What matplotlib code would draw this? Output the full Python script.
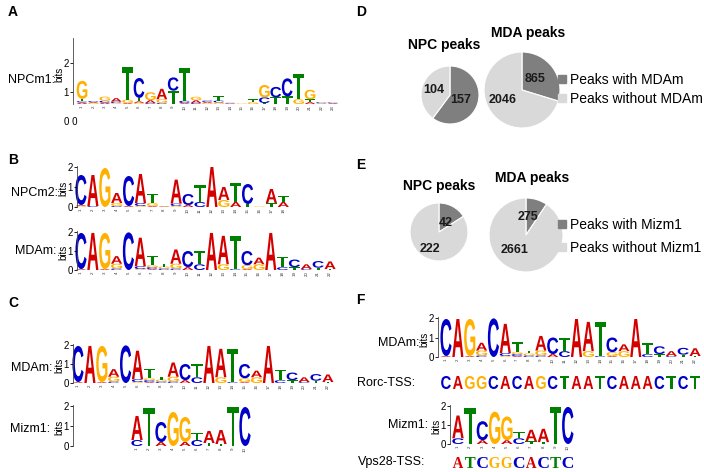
import matplotlib
matplotlib.use("Agg")
import matplotlib.pyplot as plt
from matplotlib.textpath import TextPath
from matplotlib.patches import PathPatch, Patch
from matplotlib.font_manager import FontProperties
from matplotlib.transforms import Affine2D

plt.rcParams['font.family'] = ['Liberation Sans', 'DejaVu Sans']

W, H = 704, 472

# motif columns, letters stacked bottom -> top as (letter, bits)
npcm1 = [
    [("A", 0.08), ("C", 0.07), ("T", 0.12), ("G", 0.95)],
    [("G", 0.05), ("A", 0.05), ("C", 0.05)],
    [("A", 0.07), ("C", 0.1), ("G", 0.22)],
    [("G", 0.05), ("C", 0.08), ("A", 0.18)],
    [("A", 0.05), ("G", 0.18), ("T", 1.7)],
    [("G", 0.06), ("A", 0.08), ("T", 0.18), ("C", 1.05)],
    [("C", 0.05), ("A", 0.15), ("G", 0.42)],
    [("C", 0.05), ("G", 0.2), ("A", 0.55)],
    [("T", 0.7), ("C", 0.7)],
    [("A", 0.05), ("C", 0.12), ("T", 1.75)],
    [("C", 0.05), ("A", 0.15), ("G", 0.18)],
    [("G", 0.05), ("A", 0.06), ("C", 0.07)],
    [("G", 0.08), ("C", 0.1), ("T", 0.25)],
    [("A", 0.03), ("C", 0.03)],
    [("G", 0.03)],
    [("G", 0.1), ("T", 0.15)],
    [("T", 0.05), ("C", 0.3), ("G", 0.65)],
    [("T", 0.35), ("C", 0.55)],
    [("T", 0.4), ("C", 0.95)],
    [("G", 0.25), ("T", 1.35)],
    [("A", 0.1), ("T", 0.15), ("G", 0.5)],
    [("G", 0.04), ("C", 0.05)],
    [("A", 0.04), ("C", 0.04)],
]

npcm2 = [
    [("G", 0.05), ("A", 0.05), ("C", 1.5)],
    [("C", 0.05), ("A", 1.55)],
    [("G", 1.95)],
    [("C", 0.05), ("G", 0.15), ("A", 0.5)],
    [("A", 0.05), ("C", 1.5)],
    [("G", 0.05), ("C", 0.15), ("A", 1.45)],
    [("A", 0.05), ("G", 0.15), ("T", 0.45)],
    [("G", 0.02), ("A", 0.03)],
    [("G", 0.05), ("C", 0.12), ("A", 1.2)],
    [("A", 0.1), ("C", 0.55)],
    [("C", 0.25), ("T", 0.85)],
    [("A", 2.0)],
    [("G", 0.35), ("A", 0.65)],
    [("A", 0.25), ("T", 0.95)],
    [("T", 0.15), ("C", 1.0)],
    [("G", 0.03), ("T", 0.03)],
    [("T", 0.2), ("A", 0.7)],
    [("A", 0.25), ("T", 0.3)],
]

mdam = [
    [("A", 0.05), ("C", 1.9)],
    [("A", 1.95)],
    [("A", 0.05), ("G", 1.9)],
    [("C", 0.08), ("G", 0.25), ("A", 0.4)],
    [("C", 1.98)],
    [("G", 0.05), ("C", 0.15), ("A", 1.5)],
    [("A", 0.05), ("C", 0.1), ("G", 0.1), ("T", 0.5)],
    [("C", 0.08), ("G", 0.1), ("T", 0.15)],
    [("C", 0.08), ("G", 0.25), ("A", 0.75)],
    [("A", 0.15), ("C", 0.85)],
    [("C", 0.3), ("T", 0.7)],
    [("A", 1.95)],
    [("G", 0.3), ("A", 1.5)],
    [("C", 0.05), ("T", 1.75)],
    [("A", 0.05), ("G", 0.2), ("C", 0.75)],
    [("G", 0.3), ("A", 0.35)],
    [("A", 1.95)],
    [("C", 0.15), ("T", 0.55)],
    [("T", 0.15), ("C", 0.4)],
    [("C", 0.05), ("A", 0.25)],
    [("T", 0.12), ("C", 0.35)],
    [("T", 0.05), ("A", 0.4)],
]

mizm1 = [
    [("C", 0.3), ("A", 1.2)],
    [("T", 1.9)],
    [("A", 0.2), ("C", 1.0)],
    [("G", 1.7)],
    [("A", 0.2), ("G", 1.25)],
    [("C", 0.3), ("T", 0.35)],
    [("T", 0.15), ("A", 0.6)],
    [("T", 0.1), ("A", 0.7)],
    [("T", 1.95)],
    [("C", 1.95)],
]

rorc_tss = "CAGGCACAGCTAATCAAACTCT"
vps28_tss = "ATCGGCACTC"

npc_mdam = [157, 104]
mda_mdam = [865, 2046]
npc_mizm1 = [42, 222]
mda_mizm1 = [275, 2661]
legend_mdam = ["Peaks with MDAm", "Peaks without MDAm"]
legend_mizm1 = ["Peaks with Mizm1", "Peaks without Mizm1"]

colors = {"A": "#d40000", "C": "#0000c8", "G": "#ffb000", "T": "#008000"}
dark, light = "#7f7f7f", "#d9d9d9"

logo_font = FontProperties(family="Liberation Sans", weight="bold")
serif_font = FontProperties(family="Liberation Serif", weight="bold")

fig = plt.figure(figsize=(7.04, 4.72), dpi=100)


def px_axes(x0, y0, x1, y1):
    return fig.add_axes([x0 / W, 1 - y1 / H, (x1 - x0) / W, (y1 - y0) / H])


def draw_letter(ax, ch, x, y, w, h, prop):
    tp = TextPath((0, 0), ch, size=1, prop=prop)
    bb = tp.get_extents()
    tr = Affine2D().translate(-bb.x0, -bb.y0).scale(w / bb.width, h / bb.height).translate(x, y)
    ax.add_patch(PathPatch(tr.transform_path(tp), fc=colors[ch], lw=0, clip_on=False))


def logo(columns, axis_x, pos1, step, base, ppb, top_bits, yticks=(0, 1, 2), ylabels=("0", "1", "2")):
    n = len(columns)
    ax = px_axes(axis_x, base - top_bits * ppb, pos1 + (n - 0.5) * step, base)
    ax.set_xlim(1 - (pos1 - axis_x) / step, n + 0.5)
    ax.set_ylim(0, top_bits)
    for i, col in enumerate(columns, start=1):
        y = 0
        for ch, h in col:
            draw_letter(ax, ch, i - 0.47, y, 0.94, h, logo_font)
            y += h
    for s in ["top", "right", "bottom"]:
        ax.spines[s].set_visible(False)
    ax.spines["left"].set_linewidth(0.6)
    ax.spines["left"].set_color("#444444")
    ax.set_xticks(range(1, n + 1))
    ax.set_xticklabels([str(i) for i in range(1, n + 1)], rotation=90, fontsize=3.2, color="#333333")
    ax.tick_params(axis="x", length=0, pad=1)
    ax.set_yticks(yticks)
    ax.set_yticklabels(ylabels, fontsize=7)
    ax.tick_params(axis="y", length=2, width=0.6, pad=1)
    ax.set_ylabel("bits", fontsize=7)
    ax.yaxis.set_label_coords(-9 / ax.bbox.width, 0.45)
    ax.patch.set_visible(False)
    return ax


def seq_row(seq, pos1, step, y0, y1, prop, frac=0.82):
    n = len(seq)
    ax = px_axes(pos1 - step / 2, y0, pos1 + (n - 0.5) * step, y1)
    ax.set_xlim(0.5, n + 0.5)
    ax.set_ylim(0, 1)
    ax.axis("off")
    for i, ch in enumerate(seq, start=1):
        draw_letter(ax, ch, i - frac / 2, 0, frac, 1, prop)


def pie(vals, cx, cy, r, text_xy):
    ax = px_axes(cx - r, cy - r, cx + r, cy + r)
    ax.pie(vals, colors=[dark, light], startangle=90, counterclock=False, radius=1,
           wedgeprops=dict(edgecolor="white", linewidth=0.8))
    ax.set_xlim(-1, 1)
    ax.set_ylim(-1, 1)
    for v, (tx, ty) in zip(vals, text_xy):
        ax.text(tx, ty, str(v), ha="center", va="center", fontsize=9, fontweight="bold", color="#1a1a1a")


def label(x, y, s, **kw):
    fig.text(x / W, 1 - y / H, s, **kw)


# panel letters
for s, x, y in [("A", 8, 12), ("B", 8, 160), ("C", 8, 303), ("D", 356, 12), ("E", 356, 165), ("F", 356, 300)]:
    label(x, y, s, fontsize=10, fontweight="bold", va="center")

# A
logo(npcm1, 73, 82, 11.4, 104, 19, 3.47, yticks=(0.63, 2.15), ylabels=("1", "2"))
label(55, 80, "NPCm1:", fontsize=9, ha="right", va="center")
label(71, 122, "0 0", fontsize=7, ha="center", va="center")

# B
logo(npcm2, 77, 81, 11.9, 207, 20, 2.05)
label(58, 193, "NPCm2:", fontsize=9, ha="right", va="center")
logo(mdam, 77, 81, 11.86, 270, 19, 2.05)
label(56, 251, "MDAm:", fontsize=9, ha="right", va="center")

# C
logo(mdam, 73, 78, 11.9, 383, 19, 2.05)
label(52, 368, "MDAm:", fontsize=9, ha="right", va="center")
logo(mizm1, 73, 137, 12, 446, 20, 2.05)
label(50, 429, "Mizm1:", fontsize=9, ha="right", va="center")

# F
logo(mdam, 438, 446, 11.86, 357, 19.5, 2.05)
label(419, 343, "MDAm:", fontsize=9, ha="right", va="center")
seq_row(rorc_tss, 446, 11.86, 376, 389, logo_font)
label(415, 383, "Rorc-TSS:", fontsize=9, ha="right", va="center")
logo(mizm1, 450, 458, 12.2, 444, 19, 2.05)
label(428, 425, "Mizm1:", fontsize=9, ha="right", va="center")
seq_row(vps28_tss, 458, 12.2, 457, 468, serif_font, frac=0.86)
label(425, 462, "Vps28-TSS:", fontsize=9, ha="right", va="center")

# D
pie(npc_mdam, 450, 95, 29, [(0.38, -0.17), (-0.55, 0.17)])
pie(mda_mdam, 522, 90, 38, [(0.34, 0.29), (-0.5, -0.26)])
label(444, 45, "NPC peaks", fontsize=10, fontweight="bold", ha="center", va="center")
label(528, 33, "MDA peaks", fontsize=10, fontweight="bold", ha="center", va="center")
handles = [Patch(color=dark), Patch(color=light)]
fig.legend(handles, legend_mdam, loc="upper left", bbox_to_anchor=(558 / W, 1 - 73 / H), frameon=False,
           fontsize=10, handlelength=0.55, handleheight=0.55, handletextpad=0.3, labelspacing=0.35,
           borderpad=0, borderaxespad=0)

# E
pie(npc_mizm1, 439, 232, 29, [(0.24, 0.31), (-0.31, -0.59)])
pie(mda_mizm1, 526, 235, 37, [(0.05, 0.49), (-0.3, -0.41)])
label(439, 186, "NPC peaks", fontsize=10, fontweight="bold", ha="center", va="center")
label(532, 178, "MDA peaks", fontsize=10, fontweight="bold", ha="center", va="center")
fig.legend(handles, legend_mizm1, loc="upper left", bbox_to_anchor=(558 / W, 1 - 218 / H), frameon=False,
           fontsize=10, handlelength=0.55, handleheight=0.55, handletextpad=0.3, labelspacing=0.65,
           borderpad=0, borderaxespad=0)

fig.savefig("out.png", dpi=100)
